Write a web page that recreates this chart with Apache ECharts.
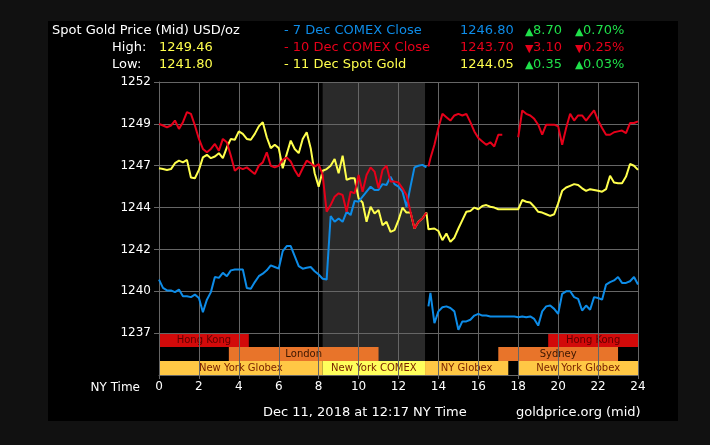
<!DOCTYPE html>
<html><head><meta charset="utf-8">
<script src="https://cdn.jsdelivr.net/npm/echarts@6/dist/echarts.min.js"></script>
<style>html,body{margin:0;padding:0;background:#111111;}#c{width:710px;height:445px;}</style>
</head><body><div id="c"></div>
<script>
// ---- data ----
const times = [0,0.2,0.4,0.6,0.8,1,1.2,1.4,1.6,1.8,2,2.2,2.4,2.6,2.8,3,3.2,3.4,3.6,3.8,4,4.2,4.4,4.6,4.8,5,5.2,5.4,5.6,5.8,6,6.2,6.4,6.6,6.8,7,7.2,7.4,7.6,7.8,8,8.2,8.4,8.6,8.8,9,9.2,9.4,9.6,9.8,10,10.2,10.4,10.6,10.8,11,11.2,11.4,11.6,11.8,12,12.2,12.4,12.6,12.8,13,13.2,13.4,13.45,13.5,13.6,13.8,14,14.2,14.4,14.6,14.8,15,15.2,15.4,15.6,15.8,16,16.2,16.4,16.6,16.8,17,17.2,17.4,17.6,17.8,18,18.2,18.4,18.6,18.8,19,19.2,19.4,19.6,19.8,20,20.2,20.4,20.6,20.8,21,21.2,21.4,21.6,21.8,22,22.2,22.4,22.6,22.8,23,23.2,23.4,23.6,23.8,24];

const close7Dec = [1240.2,1239.7,1239.55,1239.55,1239.45,1239.6,1239.2,1239.2,1239.15,1239.3,1239.1,1238.25,1239.0,1239.45,1240.35,1240.3,1240.6,1240.4,1240.75,1240.8,1240.8,1240.8,1239.7,1239.65,1240.05,1240.4,1240.55,1240.75,1241.05,1240.95,1240.85,1241.9,1242.2,1242.2,1241.6,1241.0,1240.85,1240.9,1240.95,1240.7,1240.5,1240.25,1240.2,1244.0,1243.65,1243.85,1243.65,1244.25,1244.05,1244.9,1244.85,1245.15,1245.45,1245.75,1245.55,1245.55,1245.9,1245.85,1246.35,1245.9,1245.75,1245.45,1244.55,1245.75,1246.9,1247.0,1247.05,1246.9,null,1238.6,1239.4,1237.6,1238.3,1238.55,1238.6,1238.5,1238.3,1237.2,1237.7,1237.7,1237.8,1238.05,1238.15,1238.05,1238.05,1238.0,1238.0,1238.0,1238.0,1238.0,1238.0,1238.0,1237.95,1238.0,1237.95,1238.0,1237.85,1237.45,1238.3,1238.6,1238.65,1238.45,1238.15,1239.35,1239.5,1239.5,1239.15,1239.05,1238.35,1238.65,1238.4,1239.15,1239.1,1239.0,1239.9,1240.05,1240.15,1240.35,1240.0,1240.0,1240.1,1240.35,1239.9];

const close10Dec = [1249.5,1249.4,1249.3,1249.4,1249.7,1249.2,1249.6,1250.2,1250.1,1249.4,1248.6,1248.0,1247.8,1248.0,1248.3,1247.9,1248.6,1248.4,1247.6,1246.7,1246.9,1246.8,1246.9,1246.7,1246.5,1247.0,1247.2,1247.8,1247.0,1246.9,1247.0,1247.35,1247.5,1247.25,1246.75,1246.35,1246.85,1247.3,1247.15,1246.95,1247.1,1246.45,1244.25,1244.65,1245.15,1245.35,1245.25,1244.25,1245.45,1245.35,1246.45,1245.45,1246.45,1246.9,1246.65,1245.65,1246.75,1247.0,1246.05,1246.05,1246.0,1245.65,1245.25,1244.25,1243.25,1243.65,1243.85,1244.2,null,1246.95,1247.45,1248.25,1249.25,1250.1,1249.9,1249.7,1250.0,1250.1,1250.0,1250.1,1249.6,1249.05,1248.65,1248.45,1248.25,1248.4,1248.15,1248.85,1248.85,null,null,null,1248.7,1250.3,1250.1,1250.0,1249.8,1249.45,1248.85,1249.45,1249.45,1249.45,1249.35,1248.25,1249.25,1250.1,1249.7,1250.0,1250.0,1249.7,1250.0,1250.3,1249.7,1249.25,1248.85,1248.85,1249.0,1249.05,1249.1,1248.95,1249.55,1249.55,1249.65];

const spot11Dec = [1246.85,1246.8,1246.75,1246.8,1247.15,1247.3,1247.2,1247.35,1246.3,1246.25,1246.75,1247.5,1247.65,1247.45,1247.55,1247.75,1247.45,1248.1,1248.6,1248.55,1249.05,1248.9,1248.6,1248.55,1248.9,1249.35,1249.6,1248.7,1248.05,1248.25,1248.05,1246.85,1247.7,1248.5,1248.0,1247.75,1248.6,1249.0,1248.05,1246.55,1245.75,1246.7,1246.8,1247.0,1247.4,1246.55,1247.6,1246.15,1246.25,1246.25,1245.05,1244.8,1243.65,1244.55,1244.15,1244.35,1243.45,1243.65,1243.05,1243.15,1243.75,1244.5,1244.2,1244.2,1243.25,1243.65,1243.85,1244.2,1244.2,1243.2,1243.1,1243.25,1243.1,1242.55,1242.95,1242.45,1242.7,1243.25,1243.75,1244.25,1244.3,1244.5,1244.4,1244.6,1244.65,1244.55,1244.5,1244.4,1244.4,1244.4,1244.4,1244.4,1244.4,1244.95,1244.85,1244.8,1244.55,1244.25,1244.2,1244.1,1244.0,1244.1,1244.75,1245.5,1245.7,1245.8,1245.9,1245.85,1245.65,1245.5,1245.6,1245.55,1245.5,1245.45,1245.6,1246.4,1246.0,1245.95,1245.95,1246.35,1247.1,1247.0,1246.75];

const yTickValues = [1237,1239.5,1242,1244.5,1247,1249.5,1252];
const yTickLabels = ['1237','1240','1242','1244','1247','1249','1252'];
const xTickLabels = ['0','2','4','6','8','10','12','14','16','18','20','22','24'];

const sessionNames = ['Hong Kong','Hong Kong','London','Sydney','New York Globex','New York COMEX','NY Globex','New York Globex'];
const sessionRow   = [0,0,1,1,2,2,2,2];
const sessionStart = [0,19.5,3.5,17,0,8.2,13.33,18];
const sessionEnd   = [4.5,24,11,23,8.2,13.33,17.5,24];
const sessionKind  = ['hk','hk','eu','eu','glx','cmx','glx','glx'];
const comexHours = [8.2,13.33];

const titleText = 'Spot Gold Price (Mid) USD/oz';
const highLowNames = ['High:','Low:'];
const highLowValues = ['1249.46','1241.80'];
const legendNames = ['- 7 Dec COMEX Close','- 10 Dec COMEX Close','- 11 Dec Spot Gold'];
const legendPrices = ['1246.80','1243.70','1244.05'];
const legendChanges = ['8.70','3.10','0.35'];
const legendPcts = ['0.70%','0.25%','0.03%'];
const legendUp = [true,false,true];
const footerDate = 'Dec 11, 2018 at 12:17 NY Time';
const footerSource = 'goldprice.org (mid)';

// ---- styles ----
const FONT = '"DejaVu Sans", Verdana, sans-serif';
const C_BLUE = '#0d8ce8', C_RED = '#e6001a', C_YEL = '#ffff4d', C_GREEN = '#1fe04a';
const seriesColors = [C_BLUE, C_RED, C_YEL];
const sessionFill = {hk:'#d20a0a', eu:'#e8742a', glx:'#ffc845', cmx:'#ffff5c'};
const sessionText = {hk:'#5c0000', eu:'#3a1600', glx:'#7a2200', cmx:'#7a2200'};
const GRIDC = '#666666';
const Y_MIN = 1234.5, Y_BASE = 1237, ROW_H = (1237 - 1234.5) / 3;

const chart = echarts.init(document.getElementById('c'), null, {renderer:'canvas'});

const bgItems = [];
bgItems.push([comexHours[0], comexHours[1], 1252, Y_BASE - 2 * ROW_H, -1]);
sessionNames.forEach((n, i) => {
  bgItems.push([sessionStart[i], sessionEnd[i], Y_BASE - sessionRow[i] * ROW_H, Y_BASE - (sessionRow[i] + 1) * ROW_H, i]);
});

const toPairs = arr => times.map((t, i) => [t, arr[i]]);

const graphics = [
  {type:'rect', z:-100, shape:{x:48, y:21, width:630, height:400}, style:{fill:'#000000'}},
  {type:'text', style:{text:titleText, x:52, y:31, fill:'#ffffff', font:'13px ' + FONT, verticalAlign:'middle'}},
];
highLowNames.forEach((n, i) => {
  const y = 47.5 + i * 17;
  graphics.push({type:'text', style:{text:n, x:112, y:y, fill:'#ffffff', font:'13px ' + FONT, verticalAlign:'middle'}});
  graphics.push({type:'text', style:{text:highLowValues[i], x:159, y:y, fill:C_YEL, font:'13px ' + FONT, verticalAlign:'middle'}});
});
legendNames.forEach((n, i) => {
  const y = 31 + i * 16.8;
  const c = seriesColors[i];
  const chg = legendUp[i] ? C_GREEN : C_RED;
  const arrow = legendUp[i] ? '▲' : '▼';
  graphics.push({type:'text', style:{text:n, x:284, y:y, fill:c, font:'13px ' + FONT, verticalAlign:'middle'}});
  graphics.push({type:'text', style:{text:legendPrices[i], x:460, y:y, fill:c, font:'13px ' + FONT, verticalAlign:'middle'}});
  graphics.push({type:'text', style:{text:arrow, x:525, y:y+1, fill:chg, font:'11px ' + FONT, verticalAlign:'middle'}});
  graphics.push({type:'text', style:{text:legendChanges[i], x:533, y:y, fill:chg, font:'13px ' + FONT, verticalAlign:'middle'}});
  graphics.push({type:'text', style:{text:arrow, x:575, y:y+1, fill:chg, font:'11px ' + FONT, verticalAlign:'middle'}});
  graphics.push({type:'text', style:{text:legendPcts[i], x:583, y:y, fill:chg, font:'13px ' + FONT, verticalAlign:'middle'}});
});
graphics.push({type:'text', style:{text:'NY Time', x:140, y:388, fill:'#ffffff', font:'12px ' + FONT, align:'right', verticalAlign:'middle'}});
graphics.push({type:'text', style:{text:footerDate, x:263, y:413, fill:'#ffffff', font:'13px ' + FONT, verticalAlign:'middle'}});
graphics.push({type:'text', style:{text:footerSource, x:516, y:413, fill:'#ffffff', font:'13px ' + FONT, verticalAlign:'middle'}});

const option = {
  backgroundColor:'#111111',
  animation:false,
  graphic:graphics,
  grid:{left:159, right:72, top:82, bottom:70, containLabel:false},
  xAxis:{
    type:'value', min:0, max:24, interval:2,
    axisLine:{show:true, lineStyle:{color:GRIDC, width:1}},
    axisTick:{show:true, length:4, lineStyle:{color:GRIDC}},
    splitLine:{show:true, lineStyle:{color:GRIDC, width:1}},
    axisLabel:{color:'#ffffff', fontSize:12, fontFamily:FONT, margin:6,
      formatter:v => xTickLabels[Math.round(v / 2)]}
  },
  yAxis:{
    type:'value', min:Y_MIN, max:1252, interval:2.5,
    axisLine:{show:true, lineStyle:{color:GRIDC, width:1}},
    axisTick:{show:true, length:5, lineStyle:{color:GRIDC}, customValues:yTickValues},
    splitLine:{show:true, lineStyle:{color:GRIDC, width:1}},
    axisLabel:{color:'#ffffff', fontSize:12, fontFamily:FONT, margin:8, customValues:yTickValues,
      formatter:v => v < Y_BASE - 0.1 ? '' : yTickLabels[Math.round((v - Y_BASE) / 2.5)]}
  },
  series:[
    {
      type:'custom', z:-1, silent:true,
      encode:{x:[0,1], y:[2,3]},
      data:bgItems,
      renderItem:(params, api) => {
        const s = api.value(0), e = api.value(1), top = api.value(2), bot = api.value(3), idx = api.value(4);
        const p1 = api.coord([s, top]), p2 = api.coord([e, bot]);
        const rect = {type:'rect', shape:{x:p1[0], y:p1[1], width:p2[0]-p1[0], height:p2[1]-p1[1]}};
        if (idx < 0) {
          rect.style = {fill:'#2a2a2a'};
          return rect;
        }
        const k = sessionKind[idx];
        rect.style = {fill:sessionFill[k]};
        return {type:'group', children:[rect, {type:'text', style:{
          text:sessionNames[idx], x:(p1[0]+p2[0])/2, y:(p1[1]+p2[1])/2 + 0.5,
          align:'center', verticalAlign:'middle', fill:sessionText[k], font:'10px ' + FONT}}]};
      }
    },
    {type:'line', name:'11 Dec Spot Gold', data:toPairs(spot11Dec), showSymbol:false, connectNulls:false,
      lineStyle:{color:C_YEL, width:2}, itemStyle:{color:C_YEL}},
    {type:'line', name:'7 Dec COMEX Close', data:toPairs(close7Dec), showSymbol:false, connectNulls:false,
      lineStyle:{color:C_BLUE, width:2}, itemStyle:{color:C_BLUE}},
    {type:'line', name:'10 Dec COMEX Close', data:toPairs(close10Dec), showSymbol:false, connectNulls:false,
      lineStyle:{color:C_RED, width:2}, itemStyle:{color:C_RED}}
  ]
};
chart.setOption(option);
</script>
</body></html>
